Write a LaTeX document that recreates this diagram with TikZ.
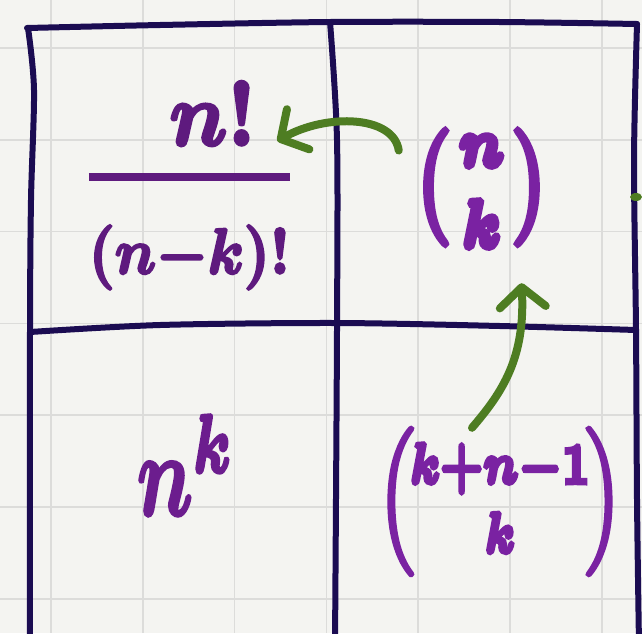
\documentclass[tikz,border=0pt]{standalone}
\usepackage{amsmath}
\usepackage{graphicx}
\usepackage{tikz}
\usetikzlibrary{arrows.meta}
\definecolor{papel}{HTML}{F4F4F1}
\definecolor{rejillagris}{HTML}{DCDCDA}
\definecolor{tinta}{HTML}{1B0C52}
\definecolor{moradoosc}{HTML}{5E1A7E}
\definecolor{morado}{HTML}{7A22A2}
\definecolor{moradomed}{HTML}{6C1D8E}
\definecolor{verde}{HTML}{4E7D22}
% trazo grueso (relleno y contorno del texto)
\newcommand{\trazo}[2]{\special{pdf:literal direct 2 Tr #1 w}#2\special{pdf:literal direct 0 Tr}}

\begin{document}
\begin{tikzpicture}[
            x=1pt, y=-1pt,
            % Estilos
            rejilla/.style={draw=rejillagris, line width=1.6pt},
            linea/.style={draw=tinta, line width=6pt, line cap=round, line join=round},
            formula/.style={inner sep=0pt},
            flecha/.style={draw=verde, line width=8pt, line cap=round, -{Straight Barb[length=20pt, width=46pt, round]}}
        ]

            % Hoja cuadriculada
            \useasboundingbox (0,0) rectangle (642,633);
            \fill[papel] (0,0) rectangle (642,633);
            \clip (0,0) rectangle (642,633);
            \foreach \i in {0,...,6} {
                \draw[rejilla] ({51+91.8*\i},0) -- ({51+91.8*\i},633);
                \draw[rejilla] (0,{48+91.8*\i}) -- (642,{48+91.8*\i});
            }

            % Tabla
            \draw[linea] plot[smooth] coordinates {(27,28) (160,25) (330,22) (500,22) (637,24)};
            \draw[linea] plot[smooth] coordinates {(28,28) (34,90) (31,200) (30,332) (30,645)};
            \draw[linea] plot[smooth] coordinates {(330,22) (337,140) (337,330) (335,645)};
            \draw[linea] plot[smooth] coordinates {(637,24) (634,160) (636,330) (637,500) (639,645)};
            \draw[linea] plot[smooth] coordinates {(30,332) (160,325) (336,323) (500,326) (636,330)};

            % Formulas
            \node (perm) [formula, text=moradoosc] at (189.5,186) {\resizebox*{215pt}{207pt}{\trazo{0.4}{\boldmath$\genfrac{}{}{1.3pt}{0}{\hspace{0.8em}\scalebox{1.4}{$n!$}}{\rule{0pt}{1.05em}(n{-}k)!}$}}};
            \node (comb) [formula, text=morado] at (481.5,188.5) {\resizebox*{135pt}{117pt}{\trazo{0.7}{\boldmath$\left(\genfrac{}{}{0pt}{1}{n}{k}\right)$}}};
            \node (power) [formula, text=moradomed] at (186,465) {\resizebox*{98pt}{100pt}{\trazo{0.3}{\boldmath$n^{k}$}}};
            \node (multi) [formula, text=morado] at (500,501.5) {\resizebox*{244pt}{147pt}{\trazo{0.55}{\boldmath$\left(\!\genfrac{}{}{0pt}{1}{k{+}n{-}1}{k}\!\right)$}}};

            % Flechas
            \draw[flecha] ([shift={(-15,-38)}]comb.west) .. controls +(-5,-35) and +(50,-28) .. ([shift={(-20,-45)}]perm.east);
            \draw[flecha] ([shift={(-28,0)}]multi.north) .. controls +(30,-35) and +(4,75) .. ([shift={(40,36)}]comb.south);
            \fill[verde] (636,197) ellipse [x radius=6pt, y radius=4pt];

        \end{tikzpicture}
\end{document}
